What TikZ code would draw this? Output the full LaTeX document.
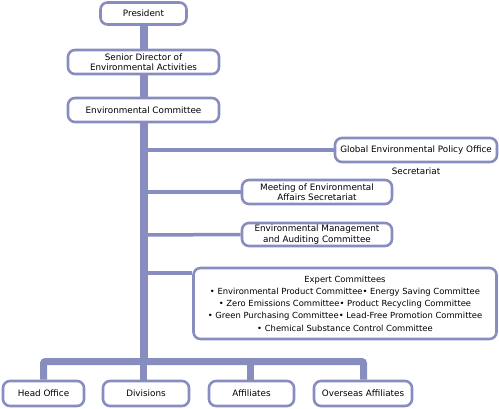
\documentclass[tikz,border=0pt]{standalone}
\usepackage{fontspec}
\setmainfont{DejaVu Sans}
\definecolor{orgblue}{RGB}{136,141,192}

\begin{document}
\begin{tikzpicture}[x=1pt, y=-1pt, orgblue,
    box/.style={draw=orgblue, line width=2.6pt, rounded corners=7pt, fill=white,
      text=black, font=\fontsize{8.8}{10.5}\selectfont, align=center, inner sep=0pt},
    trunk/.style={line width=8pt},
    branch/.style={line width=3.5pt}]
  \useasboundingbox (0,0) rectangle (499,408);

  % chain of command
  \node[box, minimum width=86, minimum height=22] (pres) at (143.5,13.5) {President};
  \node[box, minimum width=151, minimum height=24] (sdir) at (143.5,62) {Senior Director of\\Environmental Activities};
  \node[box, minimum width=151, minimum height=24] (ecom) at (143.5,110) {Environmental Committee};

  % side bodies
  \node[box, minimum width=162, minimum height=24] (gepo) at (416,150) {Global Environmental Policy Office};
  \node[text=black, font=\fontsize{8.8}{10.5}\selectfont] (secr) at (416,171) {Secretariat};
  \node[box, minimum width=150, minimum height=24] (meet) at (317,192) {Meeting of Environmental\\Affairs Secretariat};
  \node[box, minimum width=150, minimum height=23] (emac) at (317,234.5) {Environmental Management\\and Auditing Committee};
  \node[box, minimum width=303, minimum height=71, font=\fontsize{8.4}{12.2}\selectfont] (expc) at (345,303.5)
    {Expert Committees\\
     • Environmental Product Committee• Energy Saving Committee\\
     • Zero Emissions Committee• Product Recycling Committee\\
     • Green Purchasing Committee• Lead-Free Promotion Committee\\
     • Chemical Substance Control Committee};

  % units
  \node[box, minimum width=81, minimum height=25] (head) at (43.5,393.5) {Head Office};
  \node[box, minimum width=86, minimum height=25] (divs) at (146,393.5) {Divisions};
  \node[box, minimum width=85, minimum height=25] (affl) at (251.5,393.5) {Affiliates};
  \node[box, minimum width=98, minimum height=25] (ovsa) at (363,393.5) {Overseas Affiliates};

  \coordinate (bus) at (143.5,361.5);

  \draw[trunk] (pres) -- (sdir);
  \draw[trunk] (sdir) -- (ecom);
  \draw[trunk] (ecom.south -| bus) -- (bus);
  \draw[branch] (144,150) -- (gepo.west);
  \draw[branch] (144,192) -- (meet.west);
  \draw[branch] (144,235) -- (emac.west);
  \draw[branch] (144,273) -- (expc.west |- 0,273);
  \draw[line width=7pt, rounded corners=2pt] (head.north -| 43.5,0) -- (43.5,361.5) -- (363.5,361.5) -- (ovsa.north -| 363.5,0);
  \draw[line width=7pt] (bus) -- (divs.north -| bus);
  \draw[line width=7pt] (250,361.5) -- (affl.north -| 250,0);
\end{tikzpicture}
\end{document}
